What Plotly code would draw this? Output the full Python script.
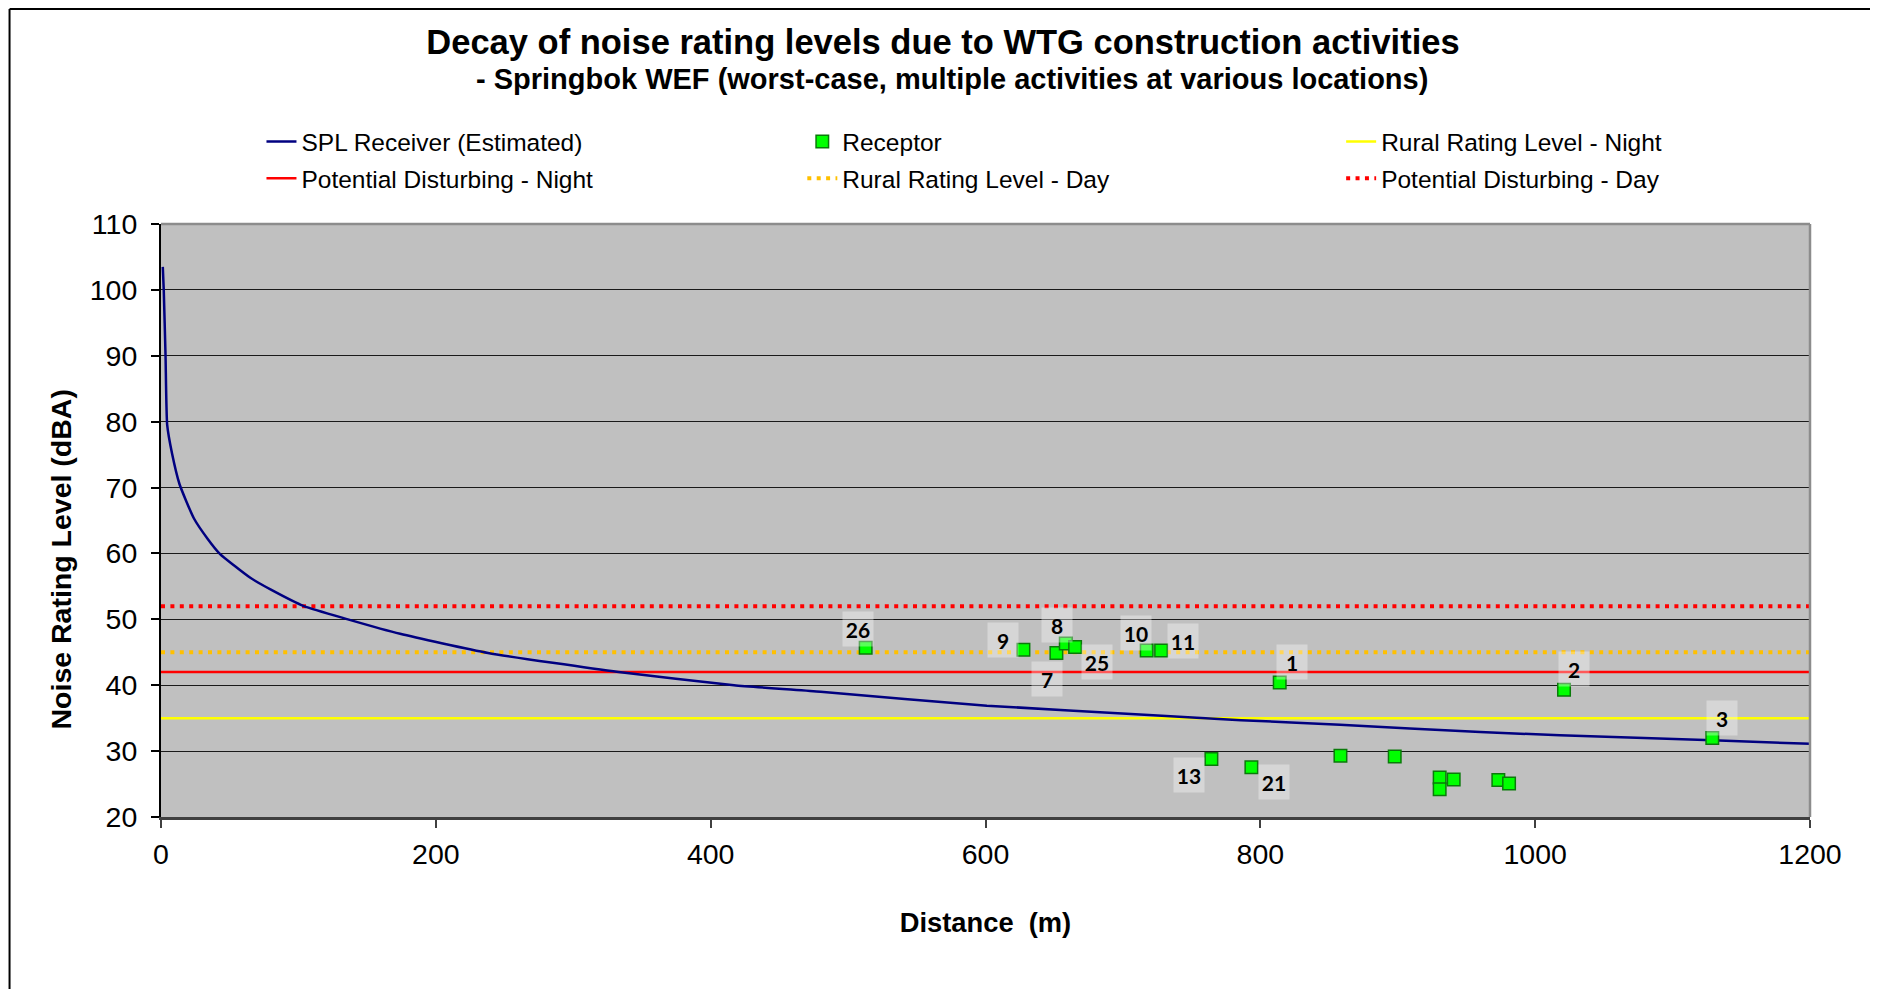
import plotly.graph_objects as go

# ---------------- data ----------------
spl_distance = [1.3, 2, 3.3, 4.5, 8, 13.5, 24, 34, 43, 53, 65, 80, 104, 136, 174, 238, 333, 417, 480, 601, 722, 786, 858, 960, 1018, 1129, 1200]
spl_level = [103.5, 100, 90, 79.5, 75.2, 70.5, 65.3, 62.2, 59.9, 58.2, 56.3, 54.5, 52.0, 50.0, 47.8, 44.9, 42.0, 40.0, 39.0, 36.9, 35.45, 34.7, 34.0, 32.9, 32.4, 31.66, 31.1]

receptor_id = ["26", "9", "7", "8", "25", "10", "11", "13", "21", "1", "", "", "", "", "", "", "", "2", "3"]
receptor_distance = [512.8, 627.6, 651.6, 658.4, 665.2, 717.3, 727.8, 764.4, 793.5, 814.1, 858.3, 897.8, 930.5, 930.5, 940.7, 973.2, 981.0, 1021.0, 1128.9]
receptor_level = [45.7, 45.4, 44.9, 46.35, 45.8, 45.26, 45.26, 28.8, 27.55, 40.4, 29.3, 29.2, 26.0, 24.2, 25.7, 25.6, 25.1, 39.3, 32.0]

x_range = [0, 1200]
rural_night_level = 35
pot_night_level = 42
rural_day_level = 45
pot_day_level = 52

title_text = "Decay of noise rating levels due to WTG construction activities"
subtitle_text = "- Springbok WEF (worst-case, multiple activities at various locations)"
x_title = "Distance  (m)"
y_title = "Noise Rating Level (dBA)"

# ---------------- style ----------------
# label offsets in px (xshift, yshift)
label_offsets = {
    "26": (-8, 19), "9": (-20, 10), "7": (-9, -26), "8": (-9, 18), "25": (22, -15),
    "10": (-11, 18), "11": (22, 10), "13": (-22, -16), "21": (23, -15), "1": (12, 21),
    "2": (10, 21), "3": (10, 20),
}
FONT = "Liberation Sans, Arial, sans-serif"
DOT = "4px,5.4px"

W, H = 1878, 989
OFF = 8  # page offset of the figure (body margin)
# plot area in page pixels
PX0, PX1, PY0, PY1 = 160.5, 1810, 224, 817
L = PX0 - OFF
T = PY0 - OFF
R = W - (PX1 - OFF)
B = H - (PY1 - OFF)
PW = PX1 - PX0
PH = PY1 - PY0


def px_x(p):
    return (p - PX0) / PW


def px_y(p):
    return (PY1 - p) / PH


fig = go.Figure()

fig.add_trace(go.Scatter(x=x_range, y=[rural_night_level] * 2, mode="lines",
                         line=dict(color="#FFFF00", width=2.5),
                         name="Rural Rating Level - Night", legend="legend3",
                         legendgroup="g5", legendrank=1))
fig.add_trace(go.Scatter(x=x_range, y=[pot_night_level] * 2, mode="lines",
                         line=dict(color="#FF0000", width=2.5),
                         name="Potential Disturbing - Night", legend="legend",
                         legendgroup="g2", legendrank=2))
fig.add_trace(go.Scatter(x=x_range, y=[rural_day_level] * 2, mode="lines",
                         line=dict(color="#FFC000", width=4, dash=DOT),
                         name="Rural Rating Level - Day", legend="legend2",
                         legendgroup="g4", legendrank=2))
fig.add_trace(go.Scatter(x=x_range, y=[pot_day_level] * 2, mode="lines",
                         line=dict(color="#FF0000", width=4, dash=DOT),
                         name="Potential Disturbing - Day", legend="legend3",
                         legendgroup="g6", legendrank=2))
fig.add_trace(go.Scatter(x=spl_distance, y=spl_level, mode="lines",
                         line=dict(color="#000080", width=2.5, shape="spline", smoothing=0.5),
                         name="SPL Receiver (Estimated)", legend="legend",
                         legendgroup="g1", legendrank=1))
fig.add_trace(go.Scatter(x=receptor_distance, y=receptor_level, mode="markers",
                         marker=dict(symbol="square", size=12.5, color="#00FF00",
                                     line=dict(color="#0A7A0A", width=1.5)),
                         name="Receptor", legend="legend2",
                         legendgroup="g3", legendrank=1))

annotations = []
for rid, xv, yv in zip(receptor_id, receptor_distance, receptor_level):
    if not rid:
        continue
    dx, dy = label_offsets.get(rid, (10, 20))
    annotations.append(dict(
        x=xv, y=yv, xref="x", yref="y", text="<b>%s</b>" % rid, showarrow=False,
        xshift=dx, yshift=dy, font=dict(family="Lato, sans-serif", size=21, color="black"),
        bgcolor="rgba(255,255,255,0.35)", width=28, height=32, borderpad=1,
        align="center", valign="middle"))

annotations.append(dict(
    text="<b>%s</b>" % y_title, textangle=-90, xref="paper", yref="paper",
    x=px_x(60), y=px_y(560), xanchor="center", yanchor="middle", showarrow=False,
    font=dict(family=FONT, size=28.5, color="black")))
annotations.append(dict(
    text="<b>%s</b>" % subtitle_text, xref="paper", yref="paper",
    x=px_x(952), y=px_y(79), xanchor="center", yanchor="middle", showarrow=False,
    font=dict(family=FONT, size=29, color="black")))

fig_left = px_x(OFF + 1)
fig_top = px_y(OFF + 1)
shapes = [
    # outer chart border
    dict(type="line", xref="paper", yref="paper", x0=fig_left, x1=fig_left, y0=fig_top, y1=px_y(1000),
         line=dict(color="black", width=2)),
    dict(type="line", xref="paper", yref="paper", x0=fig_left, x1=px_x(1874), y0=fig_top, y1=fig_top,
         line=dict(color="black", width=2)),
    dict(type="line", xref="paper", yref="paper", x0=px_x(1876), x1=px_x(1876), y0=fig_top, y1=px_y(1000),
         line=dict(color="#BDBDBD", width=1.5)),
    # plot area top/right border
    dict(type="line", xref="paper", yref="paper", x0=0, x1=1, y0=1, y1=1,
         line=dict(color="#8C8C8C", width=2.5), layer="above"),
    dict(type="line", xref="paper", yref="paper", x0=1, x1=1, y0=0, y1=1,
         line=dict(color="#8C8C8C", width=2.5), layer="above"),
]

legend_common = dict(orientation="v", xanchor="left", yanchor="top", bgcolor="rgba(0,0,0,0)",
                     font=dict(family=FONT, size=24.5, color="black"), tracegroupgap=2,
                     itemwidth=30)
leg_y = px_y(119)

fig.update_layout(
    width=W, height=H,
    margin=dict(l=L, r=R, t=T, b=B, pad=0),
    paper_bgcolor="white", plot_bgcolor="#C0C0C0",
    title=dict(text="<b>%s</b>" % title_text, x=(943 - OFF) / W, xanchor="center", xref="container",
               y=1 - (42 - OFF) / H, yanchor="middle", yref="container",
               font=dict(family=FONT, size=34.5, color="black")),
    showlegend=True,
    legend=dict(legend_common, x=px_x(261), y=leg_y),
    legend2=dict(legend_common, x=px_x(802), y=leg_y),
    legend3=dict(legend_common, x=px_x(1341), y=leg_y),
    xaxis=dict(range=[0, 1200], dtick=200, tick0=0, showgrid=False, zeroline=False,
               showline=True, linecolor="#404040", linewidth=3,
               ticks="outside", ticklen=8, tickwidth=1.5, tickcolor="#404040",
               ticklabelstandoff=2,
               tickfont=dict(family=FONT, size=28.5, color="black"),
               title=dict(text="<b>%s</b>" % x_title, standoff=44,
                          font=dict(family=FONT, size=27.3, color="black"))),
    yaxis=dict(range=[20, 110], dtick=10, tick0=20, showgrid=True, gridcolor="#1A1A1A",
               gridwidth=1.3, zeroline=False,
               showline=True, linecolor="black", linewidth=2,
               ticks="outside", ticklen=8, tickwidth=1.5, tickcolor="black",
               ticklabelstandoff=8,
               tickfont=dict(family=FONT, size=28.5, color="black")),
    annotations=annotations,
    shapes=shapes,
)

fig.write_html("out.html")
